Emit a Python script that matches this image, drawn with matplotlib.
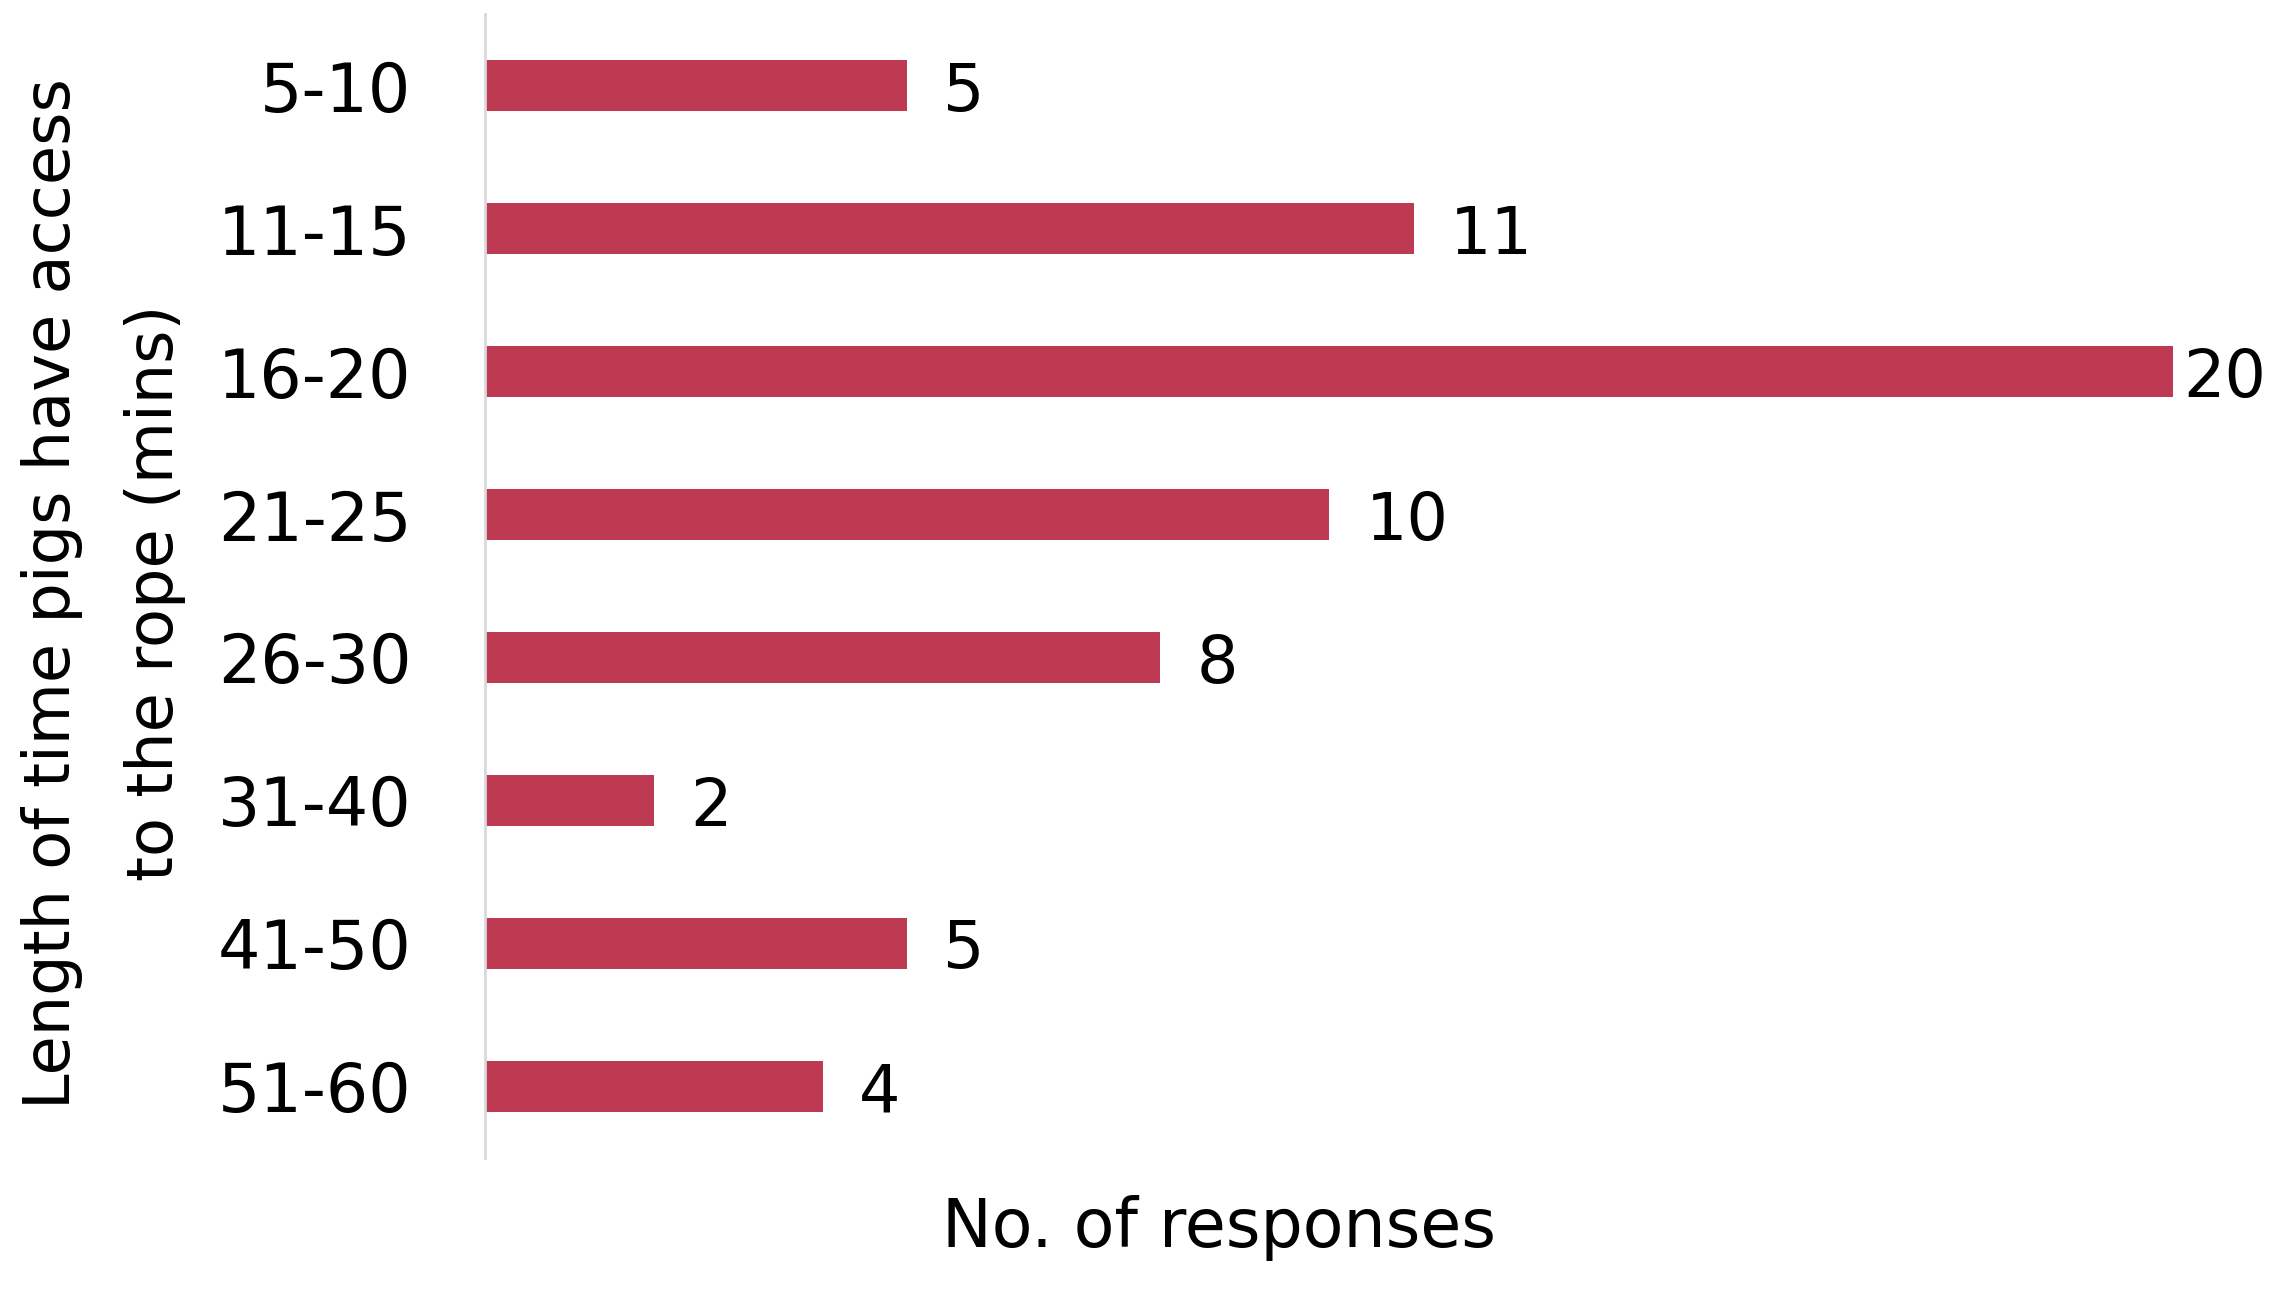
import numpy as np
import matplotlib.pyplot as plt

categories = ['5-10', '11-15', '16-20', '21-25', '26-30', '31-40', '41-50', '51-60']
responses = [5, 11, 20, 10, 8, 2, 5, 4]

bar_colour = '#BE3A53'


def plotar():
    fig = plt.figure(figsize=(22.83, 12.95), dpi=100)
    ax = fig.add_axes([0.2124, 0.106, 0.952 - 0.2124, 0.989 - 0.106])

    y = np.arange(len(categories))
    ax.barh(y, responses, height=0.36, color=bar_colour)

    ax.set_xlim(0, max(responses))
    ax.set_ylim(len(categories) - 0.5, -0.5)

    # rotulos de valor ao lado das barras
    for yi, v in zip(y, responses):
        xpos = min(v + 0.43, max(responses) + 0.12)
        ax.text(xpos, yi + 0.05, str(v), ha='left', va='center',
                fontsize=47, color='black', clip_on=False)

    ax.set_yticks(y)
    ax.set_yticklabels(categories, fontsize=48)
    ax.tick_params(axis='y', length=0, pad=53)
    ax.set_xticks([])

    for s in ['top', 'right', 'bottom']:
        ax.spines[s].set_visible(False)
    ax.spines['left'].set_color('#D9D9D9')
    ax.spines['left'].set_linewidth(2)

    fig.text(0.534, 0.052, 'No. of responses', ha='center', va='center', fontsize=48)
    fig.text(0.0453, 0.542, 'Length of time pigs have access\nto the rope (mins)',
             rotation=90, ha='center', va='center', multialignment='center',
             fontsize=46, linespacing=1.85)

    fig.savefig('out.png', dpi=100)


if __name__ == '__main__':
    plotar()
